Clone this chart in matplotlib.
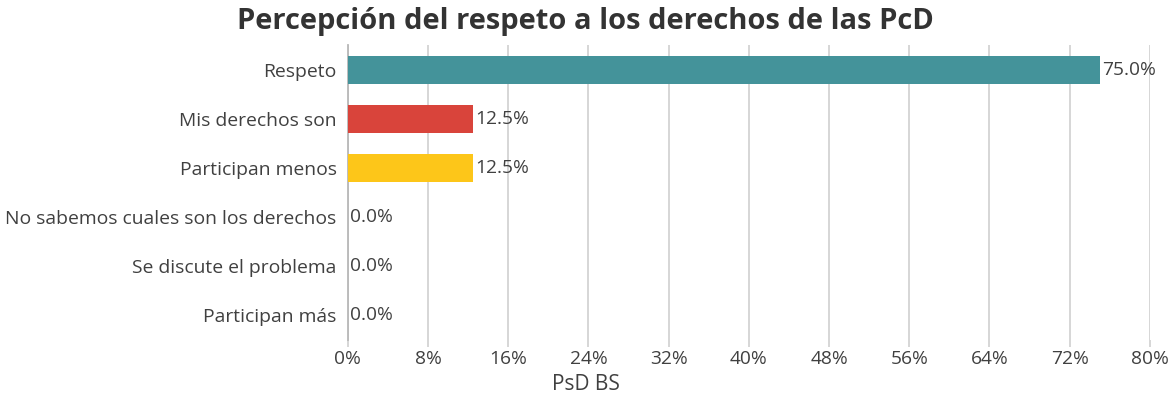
import matplotlib
matplotlib.use("Agg")
from matplotlib import pyplot as plt
from matplotlib.ticker import FuncFormatter

# Data
categories = ["Respeto", "Mis derechos son", "Participan menos",
              "No sabemos cuales son los derechos", "Se discute el problema",
              "Participan más"]
values = [75.0, 12.5, 12.5, 0.0, 0.0, 0.0]
colors = ["#44939A", "#D9443B", "#FDC619", "#44939A", "#44939A", "#44939A"]
xticks = [0, 8, 16, 24, 32, 40, 48, 56, 64, 72, 80]

plt.rcParams["font.family"] = ["Open Sans", "DejaVu Sans"]
text_color = "#404040"
grid_color = "#CFCFCF"

fig = plt.figure(figsize=(11.71, 4.07), dpi=100)
ax = fig.add_axes([0.297, 0.165, 0.685, 0.724])

ypos = list(range(len(categories)))
ax.barh(ypos, values, height=0.57, color=colors, edgecolor="none", zorder=3)
for y, v in zip(ypos, values):
    ax.text(v + 0.25, y, f"{v:.1f}%", va="center", ha="left",
            fontsize=13.8, color=text_color, zorder=4)

ax.set_ylim(len(categories) - 0.5, -0.5)
ax.set_yticks(ypos)
ax.set_yticklabels(categories, fontsize=13.9, color=text_color)
ax.set_xlim(0, 80)
ax.set_xticks(xticks)
ax.xaxis.set_major_formatter(FuncFormatter(lambda x, p: f"{x:.0f}%"))
ax.tick_params(axis="x", labelsize=13.8, colors=text_color, length=5,
               color=grid_color, width=1.2, pad=2)
ax.tick_params(axis="y", length=0, pad=8)
ax.grid(axis="x", color=grid_color, linewidth=1.2, zorder=0)

for side in ["top", "right", "bottom"]:
    ax.spines[side].set_visible(False)
ax.spines["left"].set_color("#B8B8B8")
ax.spines["left"].set_linewidth(1.3)

fig.text(0.5, 0.948, "Percepción del respeto a los derechos de las PcD",
         ha="center", va="center", fontsize=21, fontweight="bold", color="#333333")
fig.text(0.5, 0.055, "PsD BS", ha="center", va="center", fontsize=15, color=text_color)

fig.savefig("out.png", dpi=100)
